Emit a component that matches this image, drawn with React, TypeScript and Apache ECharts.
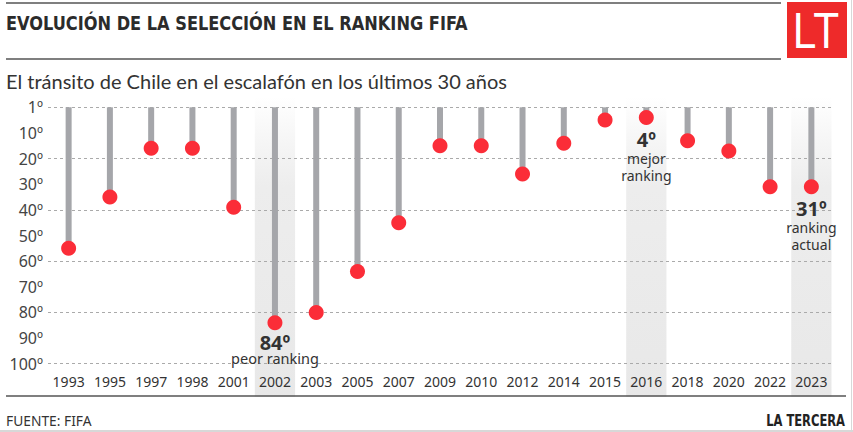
import { useEffect, useRef } from "react";
import * as echarts from "echarts";

const years = ["1993","1995","1997","1998","2001","2002","2003","2005","2007","2009","2010","2012","2014","2015","2016","2018","2020","2022","2023"];
const ranks = [55, 35, 16, 16, 39, 84, 80, 64, 45, 15, 15, 26, 14, 5, 4, 13, 17, 31, 31];
const yLabelValues = [0, 10, 20, 30, 40, 50, 60, 70, 80, 90, 100];
const highlightYears = ["2002", "2016", "2023"];
const noteYears = ["2002", "2016", "2023"];
const noteBig = ["84º", "4º", "31º"];
const noteSmall = [["peor ranking"], ["mejor", "ranking"], ["ranking", "actual"]];

const TITLE = "EVOLUCIÓN DE LA SELECCIÓN EN EL RANKING FIFA";
const SUBTITLE = "El tránsito de Chile en el escalafón en los últimos 30 años";
const SOURCE = "FUENTE: FIFA";
const BRAND = "LA TERCERA";

const RED = "#fb2d38";
const GREY = "#a5a6aa";
const NARROW = '"DejaVu Sans Condensed", "Noto Sans", sans-serif';
const SANS = '"Noto Sans", "Open Sans", sans-serif';

export default function App() {
  const ref = useRef<HTMLDivElement>(null);
  useEffect(() => {
    if (!ref.current) return;
    const chart = echarts.init(ref.current, null, { renderer: "svg" });

    const scatterData = years.map((y, i) => {
      const k = noteYears.indexOf(y);
      if (k < 0) return ranks[i];
      const tight = noteSmall[k].length === 1;
      return {
        value: ranks[i],
        label: {
          show: true,
          position: "bottom",
          distance: tight ? 2 : 3,
          formatter: `{${tight ? "b2" : "b"}|${noteBig[k]}}\n` + noteSmall[k].map((s) => `{${tight ? "p" : "s"}|${s}}`).join("\n"),
          rich: {
            b: { fontFamily: SANS, fontSize: 20, fontWeight: "bold", color: "#333", lineHeight: 22 },
            b2: { fontFamily: SANS, fontSize: 20, fontWeight: "bold", color: "#333", lineHeight: 20 },
            s: { fontFamily: SANS, fontSize: 14, color: "#333", lineHeight: 17 },
            p: { fontFamily: SANS, fontSize: 14.5, color: "#333", lineHeight: 12 },
          },
        },
      };
    });

    chart.setOption({
      animation: false,
      grid: { left: 48, right: 21, top: 107.3, bottom: 68.3, containLabel: false },
      xAxis: {
        type: "category",
        data: years,
        axisLine: { show: false },
        axisTick: { show: false },
        axisLabel: { color: "#333", fontSize: 14, fontFamily: SANS, margin: 11, interval: 0 },
      },
      yAxis: [
        {
          type: "value",
          inverse: true,
          min: 0,
          max: 100,
          interval: 10,
          position: "left",
          axisLine: { show: false },
          axisTick: { show: false },
          splitLine: { show: false },
          axisLabel: {
            color: "#444",
            fontSize: 16,
            fontFamily: SANS,
            margin: 5,
            formatter: (v: number) => (yLabelValues.includes(v) ? (v === 0 ? "1º" : `${v}º`) : ""),
          },
        },
        {
          type: "value",
          inverse: true,
          min: 0,
          max: 100,
          interval: 20,
          position: "left",
          axisLine: { show: false },
          axisTick: { show: false },
          axisLabel: { show: false },
          splitLine: { show: true, lineStyle: { color: "#aaa", type: [3, 3], width: 1 } },
        },
      ],
      series: [
        {
          type: "custom",
          z: -1,
          clip: false,
          silent: true,
          data: highlightYears.map((y) => [y]),
          encode: { x: 0 },
          renderItem: (params: any, api: any) => {
            const x = api.coord([api.value(0), 0])[0];
            const w = api.size([1, 0])[0];
            const cs = params.coordSys;
            const top = cs.y - 10;
            const bottom = cs.y + cs.height + 33;
            return {
              type: "rect",
              shape: { x: x - w / 2 + 0.5, y: top, width: w - 1, height: bottom - top },
              style: {
                fill: new echarts.graphic.LinearGradient(0, 0, 0, 1, [
                  { offset: 0, color: "rgba(235,235,235,0)" },
                  { offset: 0.3, color: "#ededed" },
                  { offset: 1, color: "#e8e8e8" },
                ]),
              },
            };
          },
        },
        {
          type: "bar",
          data: ranks,
          barWidth: 6,
          itemStyle: { color: GREY },
          silent: true,
        },
        {
          type: "scatter",
          data: scatterData,
          symbol: "circle",
          symbolSize: 15,
          itemStyle: { color: RED, opacity: 1 },
          z: 4,
        },
      ],
      graphic: [
        { type: "line", shape: { x1: 6, y1: 3, x2: 781, y2: 3 }, style: { stroke: "#555", lineWidth: 1.5 } },
        {
          type: "text",
          x: 6,
          y: 23,
          scaleX: 0.9,
          style: { text: TITLE, fontFamily: NARROW, fontWeight: "bold", fontSize: 20, fill: "#2b2b2b", verticalAlign: "middle" },
        },
        { type: "line", shape: { x1: 6, y1: 59, x2: 781, y2: 59 }, style: { stroke: "#555", lineWidth: 1.5 } },
        {
          type: "text",
          x: 6,
          y: 81,
          style: { text: SUBTITLE, fontFamily: '"Lato", "Noto Sans", sans-serif', fontSize: 20, fill: "#333", verticalAlign: "middle" },
        },
        { type: "rect", shape: { x: 787, y: 2, width: 60, height: 56 }, style: { fill: "#ee2a2a" } },
        {
          type: "text",
          x: 816,
          y: 31,
          scaleX: 0.85,
          style: { text: "LT", fontFamily: '"Liberation Sans", "DejaVu Sans", sans-serif', fontSize: 50, fill: "#fff", align: "center", verticalAlign: "middle" },
        },
        { type: "line", shape: { x1: 6, y1: 396, x2: 846, y2: 396 }, style: { stroke: "#555", lineWidth: 1.5 } },
        {
          type: "text",
          x: 6,
          y: 420,
          scaleX: 0.92,
          style: { text: SOURCE, fontFamily: '"Noto Sans", sans-serif', fontSize: 15, fill: "#333", verticalAlign: "middle" },
        },
        {
          type: "text",
          x: 845,
          y: 420,
          scaleX: 0.8,
          style: { text: BRAND, fontFamily: NARROW, fontWeight: "bold", fontSize: 16, fill: "#222", align: "right", verticalAlign: "middle" },
        },
        { type: "line", shape: { x1: 851.5, y1: 0, x2: 851.5, y2: 432 }, style: { stroke: "#d8d8d8", lineWidth: 1 } },
        { type: "line", shape: { x1: 0, y1: 431, x2: 853, y2: 431 }, style: { stroke: "#d8d8d8", lineWidth: 2 } },
      ],
    });
    return () => chart.dispose();
  }, []);
  return <div ref={ref} style={{ position: "fixed", left: 0, top: 0, width: 853, height: 432, background: "#fff" }} />;
}
